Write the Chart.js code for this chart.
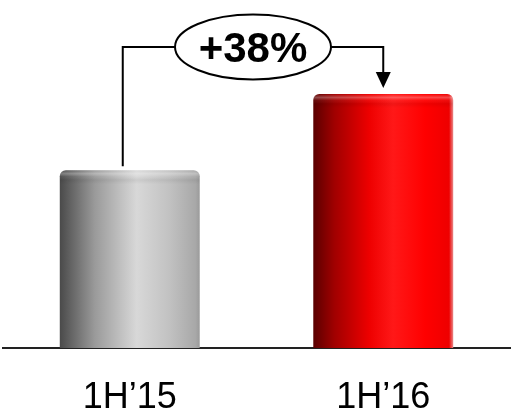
<!DOCTYPE html>
<html>
<head>
<meta charset="utf-8">
<script src="https://cdn.jsdelivr.net/npm/chart.js@4/dist/chart.umd.min.js"></script>
<style>
  html, body { margin: 0; padding: 0; background: #ffffff; }
  #wrap { width: 513px; height: 414px; position: relative; }
</style>
</head>
<body>
<div id="wrap"><canvas id="c" width="513" height="414"></canvas></div>
<script>
// Half-year periods and their index values
const periods = ['1H\u201915', '1H\u201916'];
const values = [70, 100];
const growthLabel = '+38%';

// Horizontal shading stops giving each bar a cylinder look
const grayStops = [[0, '#4a4a4a'], [0.25, '#9a9a9a'], [0.55, '#d8d8d8'], [0.78, '#c2c2c2'], [0.97, '#a8a8a8'], [1, '#9a9a9a']];
const redStops = [[0, '#5a0000'], [0.15, '#a00000'], [0.4, '#ee0000'], [0.57, '#ff1818'], [0.8, '#ff0000'], [0.97, '#ee0000'], [1, '#e88888']];
const barStops = [grayStops, redStops];
const BAR_PCT = 0.552;

function barFill(ctx) {
  const chart = ctx.chart;
  const xs = chart.scales && chart.scales.x;
  if (!chart.chartArea || !xs || !isFinite(xs.width) || xs.width <= 0) {
    return barStops[ctx.dataIndex][2][1];
  }
  const cx = xs.getPixelForValue(ctx.dataIndex);
  const w = (xs.width / periods.length) * BAR_PCT;
  const left = cx - w / 2;
  const g = chart.ctx.createLinearGradient(left, 0, left + w, 0);
  barStops[ctx.dataIndex].forEach(s => g.addColorStop(s[0], s[1]));
  return g;
}

// Soft bevel highlight along the rounded top of each bar
const bevelPlugin = {
  id: 'bevel',
  afterDatasetsDraw(chart) {
    const c = chart.ctx;
    chart.getDatasetMeta(0).data.forEach(el => {
      const left = el.x - el.width / 2;
      const top = el.y;
      c.save();
      c.beginPath();
      c.roundRect(left, top, el.width, 14, [6, 6, 0, 0]);
      c.clip();
      const g = c.createLinearGradient(0, top, 0, top + 14);
      g.addColorStop(0, 'rgba(255,255,255,0.0)');
      g.addColorStop(0.25, 'rgba(255,255,255,0.28)');
      g.addColorStop(0.45, 'rgba(255,255,255,0.05)');
      g.addColorStop(0.7, 'rgba(0,0,0,0.06)');
      g.addColorStop(1, 'rgba(0,0,0,0)');
      c.fillStyle = g;
      c.fillRect(left, top, el.width, 14);
      c.restore();
    });
  }
};

// Bracket with the growth badge, leading from the first bar to the second
const growthPlugin = {
  id: 'growth',
  afterDraw(chart) {
    const c = chart.ctx;
    const bars = chart.getDatasetMeta(0).data;
    const b0 = bars[0], b1 = bars[1];
    const leftX = b0.x - 7;
    const rightX = b1.x;
    const lineY = 47;
    const cx = (leftX + rightX) / 2;
    const rx = 78, ry = 32.5;
    c.save();
    c.strokeStyle = '#000';
    c.lineWidth = 2;
    c.beginPath();
    c.moveTo(leftX, b0.y - 4);
    c.lineTo(leftX, lineY);
    c.lineTo(cx - rx, lineY);
    c.moveTo(cx + rx, lineY);
    c.lineTo(rightX, lineY);
    c.lineTo(rightX, b1.y - 20);
    c.stroke();
    // arrow head
    c.fillStyle = '#000';
    c.beginPath();
    c.moveTo(rightX - 7.5, b1.y - 22);
    c.lineTo(rightX + 7.5, b1.y - 22);
    c.lineTo(rightX, b1.y - 6);
    c.closePath();
    c.fill();
    // badge
    c.beginPath();
    c.ellipse(cx, lineY, rx, ry, 0, 0, Math.PI * 2);
    c.fillStyle = '#fff';
    c.fill();
    c.lineWidth = 2;
    c.stroke();
    c.fillStyle = '#000';
    c.font = 'bold 42px "Liberation Sans", Arial, sans-serif';
    c.textAlign = 'center';
    c.textBaseline = 'alphabetic';
    c.fillText(growthLabel, cx, lineY + 15);
    c.restore();
  }
};

new Chart(document.getElementById('c'), {
  type: 'bar',
  data: {
    labels: periods,
    datasets: [{
      data: values,
      backgroundColor: barFill,
      borderWidth: 0,
      borderRadius: { topLeft: 6, topRight: 6, bottomLeft: 0, bottomRight: 0 },
      borderSkipped: 'bottom',
      categoryPercentage: 1,
      barPercentage: BAR_PCT
    }]
  },
  options: {
    responsive: false,
    animation: false,
    events: [],
    layout: { padding: { left: 3, right: 3, top: 0, bottom: 2 } },
    plugins: { legend: { display: false }, tooltip: { enabled: false } },
    scales: {
      x: {
        grid: { display: false, drawTicks: false },
        border: { display: true, color: '#222', width: 2 },
        ticks: {
          color: '#000',
          padding: 32,
          font: { family: '"Liberation Sans", Arial, sans-serif', size: 36, lineHeight: 1 }
        },
        afterFit(scale) { scale.height = 64; }
      },
      y: { display: false, min: 0, max: 137 }
    }
  },
  plugins: [bevelPlugin, growthPlugin]
});
</script>
</body>
</html>
